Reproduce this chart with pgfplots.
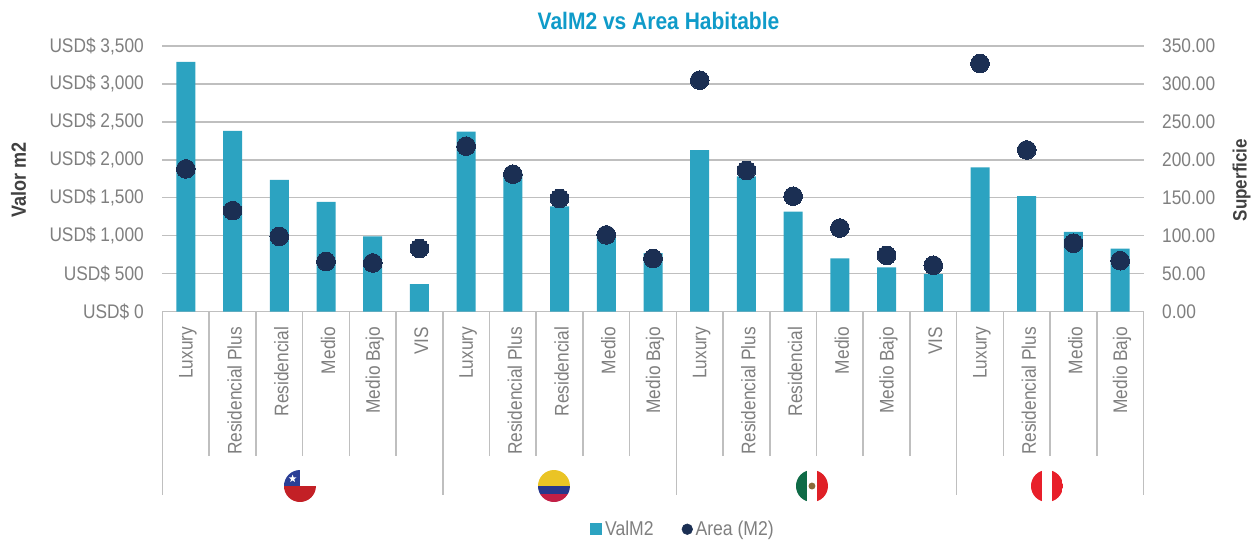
\documentclass[border=0pt]{standalone}
\usepackage{pgfplots}
\pgfplotsset{compat=1.18}
\usepackage{pgfplotstable}
\usepackage{fontspec}
\setmainfont[FakeStretch=0.88]{Liberation Sans}
\usetikzlibrary{shapes.geometric}

\definecolor{barblue}{HTML}{2CA3C1}
\definecolor{dotnavy}{HTML}{1B2F53}
\definecolor{gridgray}{HTML}{BFBFBF}
\definecolor{txtgray}{HTML}{7F7F7F}
\definecolor{lblgray}{HTML}{404040}
\definecolor{titleblue}{HTML}{0F9BC9}
\definecolor{clblue}{HTML}{2B3F96}
\definecolor{clred}{HTML}{C32026}
\definecolor{coyellow}{HTML}{EAC425}
\definecolor{coblue}{HTML}{27378C}
\definecolor{cored}{HTML}{C21F46}
\definecolor{mxgreen}{HTML}{0F6B47}
\definecolor{mxred}{HTML}{DF2027}
\definecolor{mxbrown}{HTML}{8A6A3A}
\definecolor{pered}{HTML}{E81F2A}

% x = position on the category axis
\pgfplotstableread{
x val area
0 3290 188
1 2380 133
2 1735 99
3 1445 66
4 990 64
5 360 83
6 2370 218
7 1820 181
8 1385 149
9 1000 101
10 770 70
11 2129 305
12 1780 186
13 1316 152
14 701 110
15 582 74
16 494 61
17 1900 327
18 1520 213
19 1050 90
20 830 67
}\datatable

\begin{document}
\begin{tikzpicture}
% 1 reference pixel = 0.75pt, axis origin at pixel (162.5,311.5)
\useasboundingbox (-121.875pt,-171.375pt) rectangle (819.375pt,233.625pt);

\begin{axis}[
  scale only axis, width=735.75pt, height=199.125pt,
  xmin=-0.5, xmax=20.5, ymin=0, ymax=3500,
  axis y line*=left, axis x line*=bottom,
  y axis line style={draw=none}, x axis line style={draw=gridgray,line width=1.1pt,-},
  major tick style={draw=none},
  ymajorgrids, grid style={gridgray,line width=1.1pt},
  ytick={0,500,...,3500},
  yticklabels={USD\$ 0,USD\$ 500,{USD\$ 1,000},{USD\$ 1,500},{USD\$ 2,000},{USD\$ 2,500},{USD\$ 3,000},{USD\$ 3,500}},
  yticklabel style={font=\fontsize{14.75}{16}\selectfont,text=txtgray,xshift=-10.5pt},
  xtick={0,...,20},
  xticklabels={Luxury,Residencial Plus,Residencial,Medio,Medio Bajo,VIS,Luxury,Residencial Plus,Residencial,Medio,Medio Bajo,Luxury,Residencial Plus,Residencial,Medio,Medio Bajo,VIS,Luxury,Residencial Plus,Medio,Medio Bajo},
  xticklabel style={font=\fontsize{14.75}{16}\selectfont,text=txtgray,rotate=90,anchor=east,xshift=-8pt,yshift=-1.5pt},
  ylabel={\textbf{Valor m2}},
  ylabel style={at={(axis description cs:-0.1468,0.495)},anchor=center,font=\fontsize{15.4}{17}\selectfont,text=lblgray},
  title={\textbf{ValM2 vs Area Habitable}},
  title style={at={(axis description cs:0.5056,1.064)},anchor=center,font=\fontsize{17.9}{20}\selectfont,text=titleblue},
  clip=false,
]
\addplot[ybar,bar width=14.25pt,bar shift=0pt,fill=barblue,draw=none] table[x=x,y=val]{\datatable};
\end{axis}

\begin{axis}[
  scale only axis, width=735.75pt, height=199.125pt,
  xmin=-0.5, xmax=20.5, ymin=0, ymax=350,
  axis y line*=right, axis x line=none,
  y axis line style={draw=none},
  major tick style={draw=none},
  ytick={0,50,...,350},
  yticklabels={0.00,50.00,100.00,150.00,200.00,250.00,300.00,350.00},
  yticklabel style={font=\fontsize{14.75}{16}\selectfont,text=txtgray,xshift=10.5pt},
  ylabel={\textbf{Superficie}},
  ylabel style={at={(axis description cs:1.1,0.495)},anchor=center,rotate=0,font=\fontsize{14.5}{16}\selectfont,text=lblgray},
  clip=false,
  legend columns=2,
  legend style={at={(axis description cs:0.531,-0.82)},anchor=center,draw=none,fill=none,
    font=\fontsize{15}{16}\selectfont,text=txtgray,
    /tikz/every even column/.append style={column sep=19pt}},
]
\addlegendimage{area legend,fill=barblue,draw=none,legend image code/.code={\fill[barblue] (0pt,-4.5pt) rectangle (9pt,4.5pt);}}
\addlegendentry{ValM2}
\addplot[only marks,color=dotnavy,mark=*,mark size=7pt,mark options={fill=dotnavy,draw=dotnavy,line width=0pt},
  legend image code/.code={\fill[dotnavy] (4pt,0pt) circle (4pt);}]
  table[x=x,y=area]{\datatable};
\addlegendentry{Area (M2)}
\end{axis}

% category dividers below the axis
\foreach \k in {1,2,3,4,5,7,8,9,10,12,13,14,15,16,18,19,20}
  \draw[gridgray,line width=1.1pt] ({\k*35.036pt},0pt) -- ({\k*35.036pt},-108.4pt);
\foreach \k in {0,6,11,17,21}
  \draw[gridgray,line width=1.1pt] ({\k*35.036pt},0pt) -- ({\k*35.036pt},-137.6pt);

% flags
\def\flagr{12pt}
\begin{scope}[shift={(103.1pt,-130.875pt)}]
  \begin{scope}
    \clip (0,0) circle (\flagr);
    \fill[clblue] (-12pt,0pt) rectangle (0pt,12pt);
    \fill[clred] (-12pt,-12pt) rectangle (12pt,0pt);
  \end{scope}
  \node[star,star points=5,star point ratio=2.4,fill=white,inner sep=0pt,minimum size=6pt] at (-5.5pt,5.5pt) {};
\end{scope}
\begin{scope}[shift={(293.6pt,-130.875pt)}]
  \clip (0,0) circle (\flagr);
  \fill[coyellow] (-12pt,0pt) rectangle (12pt,12pt);
  \fill[coblue] (-12pt,-6pt) rectangle (12pt,0pt);
  \fill[cored] (-12pt,-12pt) rectangle (12pt,-6pt);
\end{scope}
\begin{scope}[shift={(487.1pt,-130.875pt)}]
  \clip (0,0) circle (\flagr);
  \fill[mxgreen] (-12pt,-12pt) rectangle (-4pt,12pt);
  \fill[mxred] (4pt,-12pt) rectangle (12pt,12pt);
  \fill[mxbrown] (0pt,0pt) circle (2.6pt);
\end{scope}
\begin{scope}[shift={(663.35pt,-130.875pt)}]
  \clip (0,0) circle (\flagr);
  \fill[pered] (-12pt,-12pt) rectangle (-3.7pt,12pt);
  \fill[pered] (3.7pt,-12pt) rectangle (12pt,12pt);
\end{scope}
\end{tikzpicture}
\end{document}
